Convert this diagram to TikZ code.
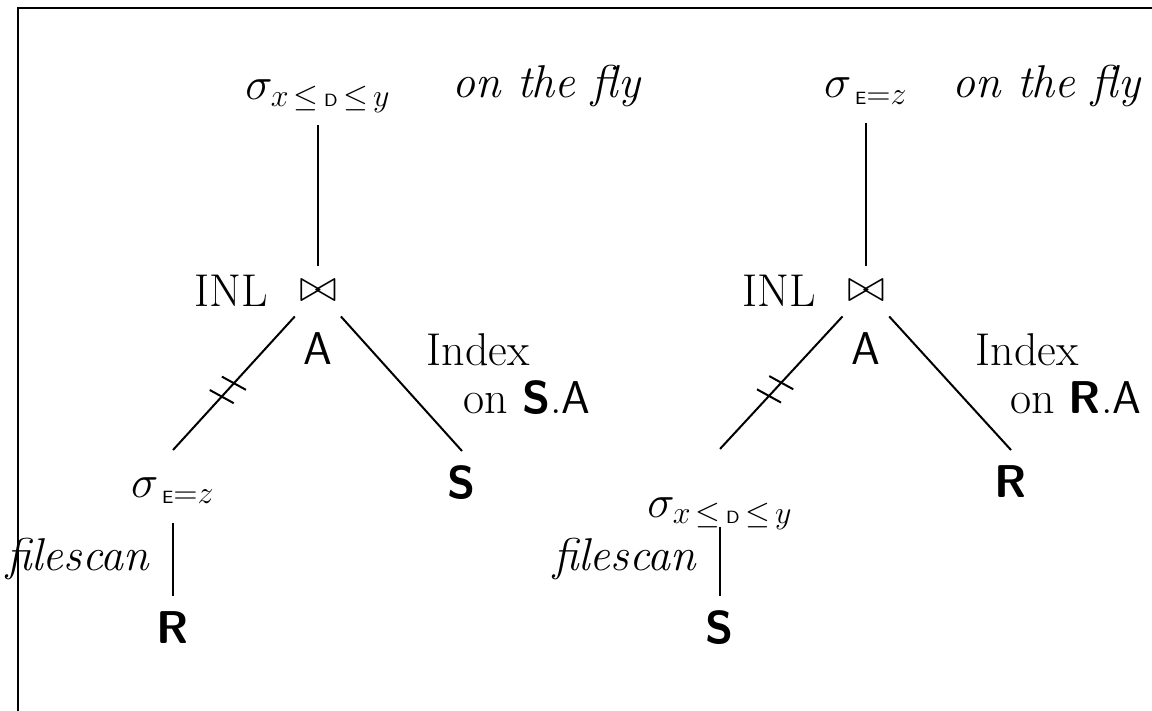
\documentclass[tikz,border=0pt]{standalone}
\usepackage{tikz}
\usetikzlibrary{calc, positioning}
\usepackage{amsmath}

\begin{document}
\huge
\begin{tikzpicture}[x=0.01585cm, y=-0.01585cm, font=\huge, line width=0.9pt,
  upper/.style={inner sep=4.15pt, text depth=6.64pt, anchor=base},
  kid/.style={inner sep=4.15pt, text height=16.6pt, text depth=7.05pt, anchor=base},
  bowtie/.style={inner sep=6.2pt},
  txt/.style={anchor=base}]
\useasboundingbox (0,0) rectangle (1152,710);
% frame
\draw (1160,8) -- (18,8) -- (18,720);

% left plan
\node[upper] (top1) at (318,100) {$\sigma_{x\,\le\,\textsf{\footnotesize D}\,\le\,y}$};
\node[txt] (fly1) at (547,98) {\textit{on the fly}};
\node[bowtie] (join1) at (318,291) {$\bowtie$};
\node[anchor=east] (inl1) at (join1.west) {INL};
\node[anchor=north] (a1) at (join1.south) {\textsf{A}};
\node[txt] (idx1) at (478,365) {Index};
\node[txt] (on1) at (527,413) {on \textbf{\textsf{S}}.\textsf{A}};
\node[kid] (sel1) at (173,497) {$\sigma_{\,\textsf{\footnotesize E}=z}$};
\node[kid] (s1) at (462,498) {\textbf{\textsf{S}}};
\node[txt] (fs1) at (78,570) {\textit{filescan}};
\node[kid] (r1) at (173,643) {\textbf{\textsf{R}}};
\draw (top1) -- (join1);
\draw (join1) -- (sel1.north) coordinate[pos=0.5] (t1a) coordinate[pos=0.6] (t1b);
\draw (join1) -- (s1.north);
\draw (sel1) -- (r1);

% right plan
\node[upper] (top2) at (866,98) {$\sigma_{\,\textsf{\footnotesize E}=z}$};
\node[txt] (fly2) at (1047,98) {\textit{on the fly}};
\node[bowtie] (join2) at (866,291) {$\bowtie$};
\node[anchor=east] (inl2) at (join2.west) {INL};
\node[anchor=north] (a2) at (join2.south) {\textsf{A}};
\node[txt] (idx2) at (1027,365) {Index};
\node[txt] (on2) at (1076,413) {on \textbf{\textsf{R}}.\textsf{A}};
\node[kid, text height=26.1pt, text depth=0pt] (sel2) at (720,517) {$\sigma_{x\,\le\,\textsf{\footnotesize D}\,\le\,y}$};
\node[kid] (r2) at (1011,497) {\textbf{\textsf{R}}};
\node[txt] (fs2) at (625,570) {\textit{filescan}};
\node[kid] (s2) at (720,643) {\textbf{\textsf{S}}};
\draw (top2) -- (join2);
\draw (join2) -- (sel2.north) coordinate[pos=0.5] (t2a) coordinate[pos=0.6] (t2b);
\draw (join2) -- (r2.north);
\draw (sel2) -- (s2);

% cut marks
\foreach \c in {t1a,t1b,t2a,t2b}
  \draw ($(\c)+(-12,-6.6)$) -- ($(\c)+(12,6.6)$);
\end{tikzpicture}
\end{document}
